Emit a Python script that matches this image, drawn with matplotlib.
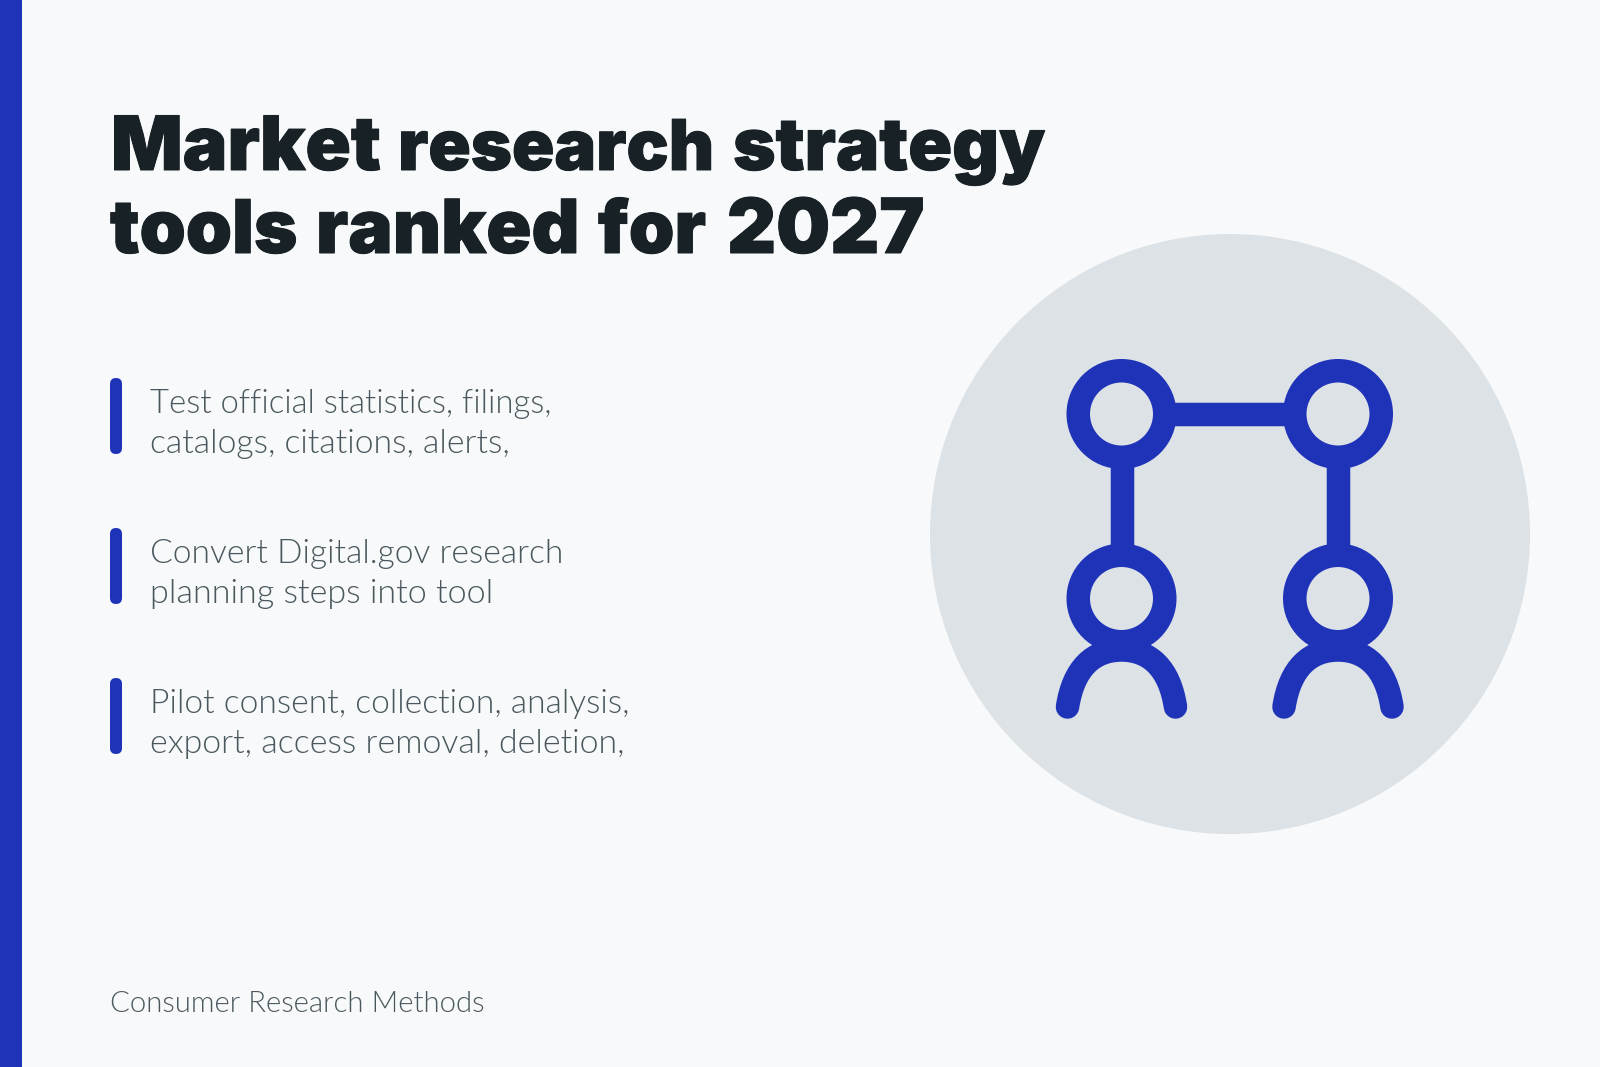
import numpy as np
import matplotlib
matplotlib.use("Agg")
import matplotlib.pyplot as plt
import matplotlib.patheffects as pe
from matplotlib.patches import Circle, Rectangle, FancyBboxPatch, PathPatch
from matplotlib.path import Path

title_lines = [["Market", "research", "strategy"], ["tools", "ranked", "for", "2027"]]
bullets = [["Test official statistics, filings,", "catalogs, citations, alerts,"],
           ["Convert Digital.gov research", "planning steps into tool"],
           ["Pilot consent, collection, analysis,", "export, access removal, deletion,"]]
footer = "Consumer Research Methods"
BG, BLUE, DARK, GREY, DISC = "#f7f9fb", "#1f33b8", "#182226", "#4a585e", "#dce2e6"

title_x = [[111, 398, 733], [110, 316, 598, 727]]
title_px = [[75, 70, 72.5], [74, 74.5, 73, 76]]
bullet_px = [[32.9, 33.8], [33.7, 34.1], [33.6, 33.9]]

W, H = 1600, 1067
PX = 0.72
fig = plt.figure(figsize=(W/100, H/100), dpi=100, facecolor=BG)
ax = fig.add_axes([0, 0, 1, 1])
ax.set_xlim(0, W); ax.set_ylim(H, 0); ax.axis("off")

ax.add_patch(Rectangle((0, 0), 22, H, fc=BLUE, ec="none"))
for y, words, xs, sizes in zip([170, 253], title_lines, title_x, title_px):
    for s, x, px in zip(words, xs, sizes):
        ax.text(x, y, s, family="Inter", weight=900, fontsize=px*PX, color=DARK, va="baseline",
                path_effects=[pe.withStroke(linewidth=1.0*PX, foreground=DARK)])
for y0, lines, sizes in zip([378, 528, 678], bullets, bullet_px):
    ax.add_patch(FancyBboxPatch((110+6, y0+6), 0.01, 64, boxstyle="round,pad=6,rounding_size=6", fc=BLUE, ec="none"))
    for dy, s, px in zip([35, 75], lines, sizes):
        ax.text(150, y0+dy, s, family="Lato", weight=300, fontsize=px*PX, color=GREY, va="baseline")
ax.text(110, 1012, footer, family="Lato", weight=300, fontsize=29.4*PX, color=GREY, va="baseline")

ax.add_patch(Circle((1230, 534), 300, fc=DISC, ec="none"))
lw = 23.5*PX
kw = dict(color=BLUE, lw=lw, solid_capstyle="butt")
centers_x = (1121.5, 1338)
rows_y = (414, 598.5)
ax.plot(centers_x, [rows_y[0]]*2, **kw)
for cx in centers_x:
    ax.plot([cx, cx], rows_y, **kw)
    for cy in rows_y:
        ax.add_patch(Circle((cx, cy), 43.25, fc=DISC, ec=BLUE, lw=lw, zorder=3))
    verts = [(cx-54, 707), (cx-48, 668), (cx-28, 650), (cx, 650), (cx+28, 650), (cx+48, 668), (cx+54, 707)]
    codes = [Path.MOVETO] + [Path.CURVE4]*6
    ax.add_patch(PathPatch(Path(verts, codes), fc="none", ec=BLUE, lw=lw, capstyle="round", zorder=2))
fig.savefig("out.png", dpi=100, facecolor=BG)
